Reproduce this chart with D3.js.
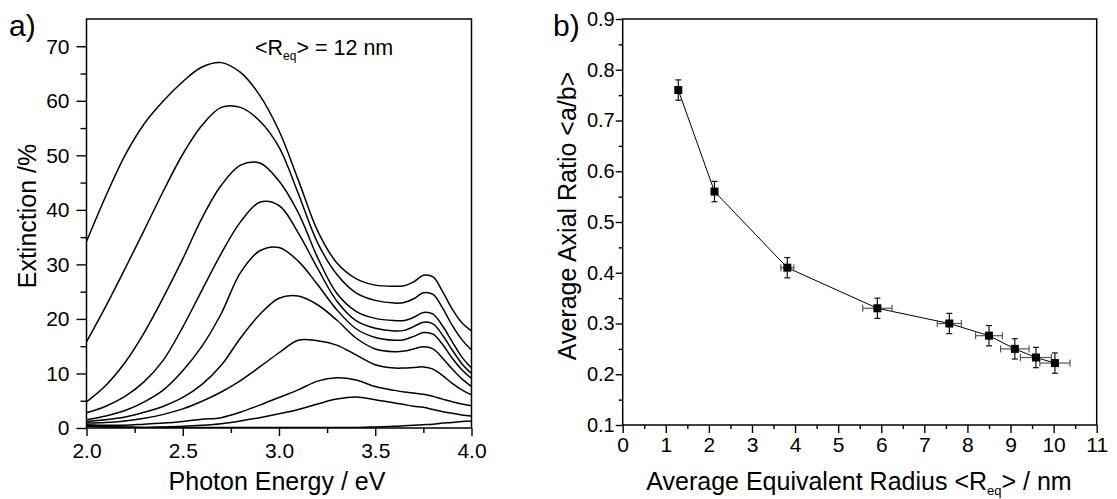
<!DOCTYPE html>
<html>
<head>
<meta charset="utf-8">
<script src="https://cdn.jsdelivr.net/npm/d3@7"></script>
<style>
  html, body { margin: 0; padding: 0; background: #fff; }
  svg { display: block; font-family: "Liberation Sans", Arial, sans-serif; }
</style>
</head>
<body>
<svg id="chart" width="1117" height="499"></svg>
<script>
// ---------- Panel a) data ----------
const energy = [2.0,2.1,2.2,2.3,2.4,2.5,2.6,2.7,2.8,2.9,3.0,3.1,3.2,3.3,3.4,3.5,3.6,3.65,3.7,3.75,3.8,3.85,3.9,3.95,4.0];
const specA = [34.2,42.5,50.0,55.8,60.0,63.5,66.2,67.0,65.2,61.0,54.5,45.5,36.2,30.3,27.4,26.2,26.0,26.1,26.8,28.0,27.7,25.0,21.8,19.3,17.8];
const specB = [15.8,22.3,29.2,36.3,43.5,50.2,55.5,58.8,58.8,56.3,51.5,43.0,34.0,28.2,24.8,23.4,22.9,23.0,23.7,24.8,24.5,22.0,18.8,16.2,14.3];
const specC = [4.8,7.8,12.0,17.5,24.0,31.0,38.5,44.5,48.2,48.6,45.3,39.5,31.3,24.7,21.4,20.1,19.7,19.7,20.3,21.2,20.9,18.7,15.8,13.0,11.0];
const specD = [2.8,4.0,5.8,8.5,12.5,18.5,25.3,32.0,37.8,41.4,40.8,35.8,29.3,23.3,19.7,18.3,17.8,17.9,18.6,19.4,19.1,17.0,14.3,11.8,10.0];
const specE = [1.5,2.2,3.2,4.8,7.0,10.5,15.0,21.0,28.5,32.5,33.1,30.6,26.3,21.7,18.2,16.6,16.1,16.2,16.8,17.5,17.2,15.3,12.8,10.7,9.1];
const specF = [1.2,1.5,2.0,2.9,4.0,5.6,8.0,11.5,16.5,20.8,23.8,24.2,22.6,19.8,16.5,14.5,14.0,14.1,14.5,14.9,14.5,12.8,10.8,9.0,7.6];
const specG = [0.9,1.0,1.3,1.8,2.5,3.5,4.9,6.6,8.7,11.2,13.8,16.1,16.0,15.2,13.4,11.6,11.0,11.0,11.1,11.2,10.8,9.6,8.2,7.0,6.1];
const specH = [0.6,0.5,0.5,0.7,0.9,1.2,1.6,1.9,2.9,4.2,5.6,7.0,8.6,9.2,8.8,7.6,6.9,6.6,6.4,6.2,5.8,5.3,4.8,4.4,4.1];
const specI = [0.3,0.2,0.1,0.1,0.2,0.3,0.5,0.8,1.3,1.9,2.6,3.4,4.4,5.3,5.7,5.2,4.6,4.3,4.0,3.8,3.4,3.0,2.7,2.4,2.2];
const specJ = [0.5,0.3,0.2,0.1,0.1,0.1,0.1,0.1,0.1,0.1,0.1,0.1,0.1,0.1,0.1,0.2,0.3,0.4,0.5,0.6,0.7,0.9,1.0,1.2,1.3];
const spectra = [specA, specB, specC, specD, specE, specF, specG, specH, specI, specJ];
const aXTicks = [2.0, 2.5, 3.0, 3.5, 4.0];
const aXMinor = [2.25, 2.75, 3.25, 3.75];
const aYTicks = [0, 10, 20, 30, 40, 50, 60, 70];
const aYMinor = [5, 15, 25, 35, 45, 55, 65];

// ---------- Panel b) data ----------
const radius = [1.29, 2.13, 3.82, 5.91, 7.58, 8.50, 9.10, 9.59, 10.03];
const axialRatio = [0.76, 0.56, 0.41, 0.33, 0.30, 0.276, 0.25, 0.233, 0.222];
const ratioErr = [0.02, 0.02, 0.02, 0.02, 0.02, 0.02, 0.02, 0.02, 0.02];
const radiusErr = [0, 0, 0.15, 0.34, 0.28, 0.31, 0.33, 0.36, 0.35];
const bXTicks = [0,1,2,3,4,5,6,7,8,9,10,11];
const bXMinor = [0.5,1.5,2.5,3.5,4.5,5.5,6.5,7.5,8.5,9.5,10.5];
const bYTicks = [0.1,0.2,0.3,0.4,0.5,0.6,0.7,0.8,0.9];
const bYMinor = [0.15,0.25,0.35,0.45,0.55,0.65,0.75,0.85];

const svg = d3.select("#chart");

// ================= Panel a =================
const A = {x0: 86.5, x1: 471.5, y0: 19, y1: 428};
const xa = d3.scaleLinear().domain([2.0, 4.0]).range([A.x0, A.x1]);
const ya = d3.scaleLinear().domain([0, 75]).range([A.y1, A.y0]);

const ga = svg.append("g");
svg.append("defs").append("clipPath").attr("id", "clipA")
  .append("rect").attr("x", A.x0).attr("y", A.y0).attr("width", A.x1 - A.x0).attr("height", A.y1 - A.y0);

const lineA = d3.line()
  .x((d, i) => xa(energy[i]))
  .y(d => ya(d))
  .curve(d3.curveCatmullRom.alpha(0.5));

ga.append("g").attr("clip-path", "url(#clipA)")
  .selectAll("path").data(spectra).join("path")
  .attr("d", d => lineA(d))
  .attr("fill", "none").attr("stroke", "#000").attr("stroke-width", 1.5);

function styleAxis(g, fs) {
  g.select(".domain").remove();
  g.selectAll(".tick line").attr("stroke", "#000").attr("stroke-width", 1.4);
  g.selectAll(".tick text").attr("fill", "#000").attr("font-size", fs)
    .attr("font-family", "'Liberation Sans', Arial, sans-serif");
}

// x axis (a)
ga.append("g").attr("transform", `translate(0,${A.y1})`)
  .call(d3.axisBottom(xa).tickValues(aXTicks).tickFormat(d3.format(".1f")).tickSize(8).tickPadding(7))
  .call(g => styleAxis(g, 21));
ga.append("g").attr("transform", `translate(0,${A.y1})`)
  .call(d3.axisBottom(xa).tickValues(aXMinor).tickFormat("").tickSize(5))
  .call(g => styleAxis(g, 21));
// y axis (a)
ga.append("g").attr("transform", `translate(${A.x0},0)`)
  .call(d3.axisLeft(ya).tickValues(aYTicks).tickFormat(d3.format("d")).tickSize(10).tickPadding(7))
  .call(g => styleAxis(g, 21));
ga.append("g").attr("transform", `translate(${A.x0},0)`)
  .call(d3.axisLeft(ya).tickValues(aYMinor).tickFormat("").tickSize(6))
  .call(g => styleAxis(g, 21));

ga.append("rect").attr("x", A.x0).attr("y", A.y0).attr("width", A.x1 - A.x0).attr("height", A.y1 - A.y0)
  .attr("fill", "none").attr("stroke", "#000").attr("stroke-width", 1.5);

ga.append("text").attr("x", 277).attr("y", 490).attr("text-anchor", "middle")
  .attr("font-size", 25).text("Photon Energy / eV");
ga.append("text").attr("transform", `translate(36,216) rotate(-90)`)
  .attr("text-anchor", "middle").attr("font-size", 25).text("Extinction /%");
ga.append("text").attr("x", 9).attr("y", 36).attr("font-size", 30).text("a)");

const ann = ga.append("text").attr("x", 255).attr("y", 55).attr("font-size", 21.5);
ann.append("tspan").text("<R");
ann.append("tspan").attr("font-size", 12).attr("dy", 5).text("eq");
ann.append("tspan").attr("dy", -5).text("> = 12 nm");

// ================= Panel b =================
const B = {x0: 622.7, x1: 1096.7, y0: 19, y1: 425};
const xb = d3.scaleLinear().domain([0, 11]).range([B.x0, B.x1]);
const yb = d3.scaleLinear().domain([0.1, 0.9]).range([B.y1, B.y0]);
const gb = svg.append("g");

gb.append("g").attr("transform", `translate(0,${B.y1})`)
  .call(d3.axisBottom(xb).tickValues(bXTicks).tickFormat(d3.format("d")).tickSize(8).tickPadding(4))
  .call(g => styleAxis(g, 21));
gb.append("g").attr("transform", `translate(0,${B.y1})`)
  .call(d3.axisBottom(xb).tickValues(bXMinor).tickFormat("").tickSize(4))
  .call(g => styleAxis(g, 21));
gb.append("g").attr("transform", `translate(${B.x0},0)`)
  .call(d3.axisLeft(yb).tickValues(bYTicks).tickFormat(d3.format(".1f")).tickSize(7).tickPadding(1))
  .call(g => styleAxis(g, 20));
gb.append("g").attr("transform", `translate(${B.x0},0)`)
  .call(d3.axisLeft(yb).tickValues(bYMinor).tickFormat("").tickSize(4))
  .call(g => styleAxis(g, 20));

gb.append("rect").attr("x", B.x0).attr("y", B.y0).attr("width", B.x1 - B.x0).attr("height", B.y1 - B.y0)
  .attr("fill", "none").attr("stroke", "#000").attr("stroke-width", 1.5);

const pts = radius.map((r, i) => ({r, v: axialRatio[i], ey: ratioErr[i], ex: radiusErr[i]}));

gb.append("path").datum(pts)
  .attr("d", d3.line().x(d => xb(d.r)).y(d => yb(d.v)))
  .attr("fill", "none").attr("stroke", "#000").attr("stroke-width", 1);

// x error bars (gray)
const xe = gb.append("g").attr("stroke", "#555").attr("stroke-width", 1.2);
pts.filter(d => d.ex > 0).forEach(d => {
  xe.append("line").attr("x1", xb(d.r - d.ex)).attr("x2", xb(d.r + d.ex)).attr("y1", yb(d.v)).attr("y2", yb(d.v));
  xe.append("line").attr("x1", xb(d.r - d.ex)).attr("x2", xb(d.r - d.ex)).attr("y1", yb(d.v) - 3.5).attr("y2", yb(d.v) + 3.5);
  xe.append("line").attr("x1", xb(d.r + d.ex)).attr("x2", xb(d.r + d.ex)).attr("y1", yb(d.v) - 3.5).attr("y2", yb(d.v) + 3.5);
});
// y error bars (black)
const ye = gb.append("g").attr("stroke", "#111").attr("stroke-width", 1.2);
pts.forEach(d => {
  ye.append("line").attr("x1", xb(d.r)).attr("x2", xb(d.r)).attr("y1", yb(d.v - d.ey)).attr("y2", yb(d.v + d.ey));
  ye.append("line").attr("x1", xb(d.r) - 3).attr("x2", xb(d.r) + 3).attr("y1", yb(d.v - d.ey)).attr("y2", yb(d.v - d.ey));
  ye.append("line").attr("x1", xb(d.r) - 3).attr("x2", xb(d.r) + 3).attr("y1", yb(d.v + d.ey)).attr("y2", yb(d.v + d.ey));
});
gb.selectAll("rect.pt").data(pts).join("rect").attr("class", "pt")
  .attr("x", d => xb(d.r) - 4).attr("y", d => yb(d.v) - 4).attr("width", 8).attr("height", 8)
  .attr("fill", "#000");

const xl = gb.append("text").attr("x", 859).attr("y", 490).attr("text-anchor", "middle").attr("font-size", 25);
xl.append("tspan").text("Average Equivalent Radius <R");
xl.append("tspan").attr("font-size", 13).attr("dy", 5).text("eq");
xl.append("tspan").attr("dy", -5).text("> / nm");
gb.append("text").attr("transform", `translate(576,216) rotate(-90)`)
  .attr("text-anchor", "middle").attr("font-size", 25).text("Average Axial Ratio <a/b>");
gb.append("text").attr("x", 553).attr("y", 36).attr("font-size", 30).text("b)");
</script>
</body>
</html>
